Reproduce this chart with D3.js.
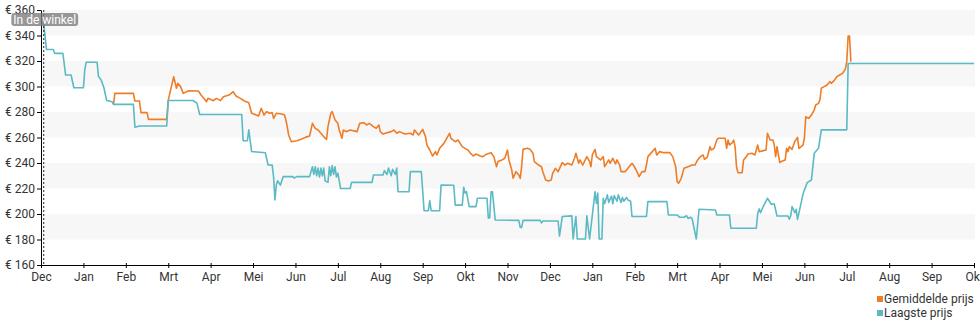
<!DOCTYPE html>
<html>
<head>
<meta charset="utf-8">
<script src="https://cdn.jsdelivr.net/npm/d3@7"></script>
<style>
  html, body { margin: 0; padding: 0; background: #fff; }
  svg { display: block; font-family: Roboto, "Noto Sans", sans-serif; }
</style>
</head>
<body>
<svg id="chart" width="980" height="325"></svg>
<script>
// Month tick labels, December 2022 through October 2024
const monthLabels = ["Dec","Jan","Feb","Mrt","Apr","Mei","Jun","Jul","Aug","Sep","Okt","Nov",
                     "Dec","Jan","Feb","Mrt","Apr","Mei","Jun","Jul","Aug","Sep","Okt"];
const priceTicks = [160, 180, 200, 220, 240, 260, 280, 300, 320, 340, 360];
const storeDate = "2022-12-03";
const storeLabel = "In de winkel";

// Average price (date, euro)
const gemiddeldePrijs = [
  ["2023-01-23",286],["2023-01-24",294.6],["2023-02-06",294.6],["2023-02-07",288.6],["2023-02-10",288.6],
  ["2023-02-11",279.5],["2023-02-15",279.5],["2023-02-16",274.2],["2023-02-28",274.2],["2023-03-01",289.1],
  ["2023-03-05",307.7],["2023-03-07",298.6],["2023-03-08",302.5],["2023-03-10",299.9],["2023-03-12",294.6],
  ["2023-03-16",296.7],["2023-03-23",296.5],["2023-03-25",293.3],["2023-03-29",288.1],["2023-03-30",290.7],
  ["2023-04-03",288.9],["2023-04-05",290.7],["2023-04-08",288.9],["2023-04-10",292],["2023-04-14",293.3],
  ["2023-04-17",295.9],["2023-04-19",292.5],["2023-04-22",290.7],["2023-04-25",288.6],["2023-04-28",287.3],
  ["2023-04-30",279],["2023-05-02",278.2],["2023-05-05",276.9],["2023-05-07",282.9],["2023-05-09",277.6],
  ["2023-05-11",280.3],["2023-05-13",279],["2023-05-15",279.5],["2023-05-16",275],["2023-05-18",279],
  ["2023-05-22",278.4],["2023-05-24",277.6],["2023-05-25",273.7],["2023-05-26",268.5],["2023-05-27",262],
  ["2023-05-29",256.7],["2023-06-02",257.5],["2023-06-05",258.6],["2023-06-08",260.1],["2023-06-11",261.2],
  ["2023-06-13",271.1],["2023-06-15",267.2],["2023-06-17",265.9],["2023-06-19",263.3],["2023-06-22",259.4],
  ["2023-06-23",258.6],["2023-06-24",268.5],["2023-06-26",279],["2023-06-27",280.3],["2023-06-29",273.7],
  ["2023-07-01",271.1],["2023-07-02",265.9],["2023-07-04",259.4],["2023-07-05",265.9],["2023-07-07",264.6],
  ["2023-07-10",265.9],["2023-07-15",264.6],["2023-07-17",271.1],["2023-07-20",271.6],["2023-07-22",269.8],
  ["2023-07-24",271.1],["2023-07-27",268.5],["2023-07-29",267.2],["2023-07-31",269.8],["2023-08-01",264.6],
  ["2023-08-03",262.7],["2023-08-06",263.8],["2023-08-09",264.6],["2023-08-11",265.9],["2023-08-13",263.3],
  ["2023-08-15",264.6],["2023-08-19",262.7],["2023-08-23",263.3],["2023-08-25",262],["2023-08-26",265.9],
  ["2023-08-29",262],["2023-08-30",263.3],["2023-09-01",266.4],["2023-09-03",260.7],["2023-09-04",254.1],
  ["2023-09-06",250.2],["2023-09-08",245.5],["2023-09-10",248.9],["2023-09-11",246.3],["2023-09-13",251.5],
  ["2023-09-16",255.4],["2023-09-18",259.4],["2023-09-20",263.3],["2023-09-21",259.4],["2023-09-24",256.7],
  ["2023-09-26",258],["2023-09-29",252.8],["2023-10-01",251.5],["2023-10-03",250.2],["2023-10-05",247.6],
  ["2023-10-07",245.5],["2023-10-09",247.1],["2023-10-12",245.5],["2023-10-14",245],["2023-10-17",247.1],
  ["2023-10-20",248.1],["2023-10-22",245],["2023-10-24",237.1],["2023-10-25",241.1],["2023-10-28",242.4],
  ["2023-10-30",243.7],["2023-11-01",250.2],["2023-11-02",242.4],["2023-11-04",234.5],["2023-11-05",228],
  ["2023-11-07",233.2],["2023-11-09",230.6],["2023-11-10",228],["2023-11-11",237.1],["2023-11-12",250.7],
  ["2023-11-15",251.5],["2023-11-17",250.7],["2023-11-19",247.6],["2023-11-20",241.1],["2023-11-23",238.4],
  ["2023-11-25",237.1],["2023-11-26",233.2],["2023-11-28",226.7],["2023-11-30",225.9],["2023-12-02",226.7],
  ["2023-12-03",231.9],["2023-12-05",235.8],["2023-12-07",233.2],["2023-12-10",240.3],["2023-12-12",238.4],
  ["2023-12-14",239.8],["2023-12-17",238.4],["2023-12-19",243.7],["2023-12-20",247.6],["2023-12-22",239.8],
  ["2023-12-23",242.4],["2023-12-25",238.4],["2023-12-28",245],["2023-12-30",241.1],["2023-12-31",237.1],
  ["2024-01-01",246.3],["2024-01-03",250.7],["2024-01-04",245],["2024-01-07",242.4],["2024-01-09",245],
  ["2024-01-10",237.1],["2024-01-13",242.4],["2024-01-14",239.8],["2024-01-16",243.7],["2024-01-18",239.3],
  ["2024-01-19",242.4],["2024-01-21",238.4],["2024-01-22",233.2],["2024-01-25",233.2],["2024-01-27",235.8],
  ["2024-01-30",239.8],["2024-01-31",238.4],["2024-02-02",234.5],["2024-02-04",229.3],["2024-02-06",233.2],
  ["2024-02-08",233.2],["2024-02-09",238.4],["2024-02-10",245],["2024-02-13",248.9],["2024-02-15",251.5],
  ["2024-02-16",246.3],["2024-02-18",248.9],["2024-02-21",248.1],["2024-02-25",248.1],["2024-02-27",245],
  ["2024-02-29",237.1],["2024-03-01",225.4],["2024-03-02",224.1],["2024-03-04",228],["2024-03-06",235.8],
  ["2024-03-09",237.1],["2024-03-12",238.4],["2024-03-14",238.4],["2024-03-16",242.4],["2024-03-18",245],
  ["2024-03-20",246.3],["2024-03-21",242.9],["2024-03-23",244.5],["2024-03-25",252.8],["2024-03-26",250.2],
  ["2024-03-28",251.5],["2024-03-30",258],["2024-03-31",259.4],["2024-04-05",259.4],["2024-04-06",251.5],
  ["2024-04-07",258],["2024-04-08",254.1],["2024-04-10",255.9],["2024-04-11",258],["2024-04-12",252.8],
  ["2024-04-13",237.1],["2024-04-14",232.4],["2024-04-17",232.4],["2024-04-18",242.4],["2024-04-20",245],
  ["2024-04-21",247.1],["2024-04-24",247.6],["2024-04-26",246.3],["2024-04-28",254.1],["2024-04-29",248.9],
  ["2024-05-02",249.7],["2024-05-04",250.2],["2024-05-05",263.3],["2024-05-07",258],["2024-05-09",258],
  ["2024-05-10",254.1],["2024-05-11",245],["2024-05-12",252.8],["2024-05-14",240.3],["2024-05-15",241.1],
  ["2024-05-18",242.4],["2024-05-19",251.5],["2024-05-20",248.9],["2024-05-21",252.8],["2024-05-23",250.7],
  ["2024-05-25",256.8],["2024-05-27",260.1],["2024-05-28",251.5],["2024-05-31",254.1],["2024-06-01",259.4],
  ["2024-06-02",276.3],["2024-06-04",275],["2024-06-06",277.6],["2024-06-08",281.6],["2024-06-09",285.5],
  ["2024-06-11",286.8],["2024-06-12",289.4],["2024-06-13",298.6],["2024-06-15",299.9],["2024-06-17",301.2],
  ["2024-06-19",303.8],["2024-06-20",302.5],["2024-06-22",304.6],["2024-06-24",307.7],["2024-06-26",309],
  ["2024-06-28",310.3],["2024-06-30",313.5],["2024-07-01",319.5],["2024-07-02",339.6],["2024-07-03",339.6],
  ["2024-07-04",319.5]
];

// Lowest price (date, euro)
const laagstePrijs = [
  ["2022-12-03",349],["2022-12-05",329],["2022-12-10",329],["2022-12-11",326],["2022-12-17",326],
  ["2022-12-19",309],["2022-12-23",309],["2022-12-25",299],["2023-01-01",299],["2023-01-02",313],
  ["2023-01-03",319],["2023-01-11",319],["2023-01-12",308],["2023-01-14",305],["2023-01-16",299],
  ["2023-01-18",289],["2023-01-22",288],["2023-01-23",286],["2023-02-06",286],["2023-02-07",268],
  ["2023-02-10",269],["2023-02-28",269],["2023-03-01",289],["2023-03-19",289],["2023-03-22",287],
  ["2023-03-24",278],["2023-04-23",278],["2023-04-24",257.5],["2023-04-27",257.5],["2023-04-28",266],
  ["2023-04-30",249],["2023-05-10",248],["2023-05-12",238.4],["2023-05-15",238.4],["2023-05-16",229.3],
  ["2023-05-17",211],["2023-05-18",222.7],["2023-05-19",226],["2023-05-21",222.7],["2023-05-23",229.3],
  ["2023-05-30",229.3],["2023-05-31",228.3],["2023-06-02",229.3],["2023-06-11",229.3],["2023-06-13",237],
  ["2023-06-14",231],["2023-06-15",237],["2023-06-16",230],["2023-06-17",236],["2023-06-18",229],
  ["2023-06-19",236],["2023-06-20",230],["2023-06-21",236],["2023-06-22",226],["2023-06-24",224.8],
  ["2023-06-25",237],["2023-06-26",230],["2023-06-27",238],["2023-06-28",231],["2023-06-29",237],
  ["2023-06-30",229],["2023-07-01",232],["2023-07-02",226],["2023-07-03",220],["2023-07-10",220],
  ["2023-07-11",224.8],["2023-07-26",224.8],["2023-07-27",230.6],["2023-08-03",230.6],["2023-08-04",234],
  ["2023-08-06",231],["2023-08-07",236],["2023-08-09",230],["2023-08-10",235],["2023-08-12",231],
  ["2023-08-13",236],["2023-08-14",217.5],["2023-08-22",217.5],["2023-08-23",233.2],["2023-08-31",233.2],
  ["2023-09-02",202.6],["2023-09-05",202.6],["2023-09-06",210.5],["2023-09-07",202.6],["2023-09-13",202.6],
  ["2023-09-14",222.7],["2023-09-23",222.5],["2023-09-24",207],["2023-09-29",207],["2023-09-30",221],
  ["2023-10-01",216.4],["2023-10-02",217.5],["2023-10-04",205.8],["2023-10-09",205.8],["2023-10-10",212.3],
  ["2023-10-17",212.3],["2023-10-18",196.7],["2023-10-19",197],["2023-10-20",217.5],["2023-10-21",217.5],
  ["2023-10-23",195.3],["2023-11-09",195],["2023-11-10",189.5],["2023-11-11",189.5],["2023-11-12",195],
  ["2023-11-24",195],["2023-11-25",193],["2023-11-26",194.5],["2023-12-07",194.5],["2023-12-08",182.7],
  ["2023-12-09",190],["2023-12-10",198],["2023-12-17",198.5],["2023-12-18",180.4],["2023-12-19",190],
  ["2023-12-20",198],["2023-12-21",180.4],["2023-12-27",180.4],["2023-12-28",198.5],["2023-12-30",180.4],
  ["2024-01-03",217.5],["2024-01-04",208.3],["2024-01-05",216.4],["2024-01-06",180.4],["2024-01-08",180.4],
  ["2024-01-09",212.3],["2024-01-10",208],["2024-01-12",215],["2024-01-13",209],["2024-01-15",214],
  ["2024-01-16",208],["2024-01-17",214.5],["2024-01-19",210],["2024-01-20",215],["2024-01-22",209],
  ["2024-01-23",213],["2024-01-24",210],["2024-01-26",213],["2024-01-27",211],["2024-01-29",210],
  ["2024-01-30",198],["2024-02-09",198],["2024-02-10",209.7],["2024-02-23",209.7],["2024-02-24",199.2],
  ["2024-03-01",199.2],["2024-03-03",197.4],["2024-03-06",197.4],["2024-03-08",198.6],["2024-03-09",196.5],
  ["2024-03-11",197.4],["2024-03-12",196.1],["2024-03-15",180.4],["2024-03-17",203.7],["2024-03-29",203.1],
  ["2024-03-30",199.2],["2024-04-08",199.2],["2024-04-09",188.8],["2024-04-27",188.8],["2024-04-28",200.5],
  ["2024-04-29",204],["2024-04-30",201],["2024-05-02",206],["2024-05-05",212.3],["2024-05-08",207.5],
  ["2024-05-10",208],["2024-05-12",198.4],["2024-05-20",198.4],["2024-05-21",196],["2024-05-22",198.4],
  ["2024-05-23",205.8],["2024-05-25",201],["2024-05-26",203.6],["2024-05-27",195.8],["2024-05-30",210.5],
  ["2024-05-31",215.7],["2024-06-03",224.6],["2024-06-06",226.7],["2024-06-08",247.6],["2024-06-11",251.5],
  ["2024-06-13",266],["2024-07-01",266],["2024-07-02",318],["2024-10-01",318]
];

const seriesNames = ["Gemiddelde prijs", "Laagste prijs"];
const seriesColors = ["#ee7d28", "#5bbac4"];
const seriesData = [gemiddeldePrijs, laagstePrijs];

// The axis spaces every month equally, so a date maps to a fractional month index
const parseDate = d3.timeParse("%Y-%m-%d");
const firstMonth = new Date(2022, 11, 1);
function monthIndex(str) {
  const d = parseDate(str);
  const whole = d3.timeMonth.count(firstMonth, d3.timeMonth.floor(d));
  const daysInMonth = d3.timeDay.count(d3.timeMonth.floor(d), d3.timeMonth.offset(d3.timeMonth.floor(d), 1));
  return whole + (d.getDate() - 1) / daysInMonth;
}

const svg = d3.select("#chart");
const x = d3.scaleLinear().domain([0, monthLabels.length - 1]).range([41, 974]);
const y = d3.scaleLinear().domain([160, 360]).range([265, 10]);

// Alternating background bands
const bands = svg.append("g");
priceTicks.slice(0, -1).forEach((lo, i) => {
  const hi = priceTicks[i + 1];
  if ((360 - hi) % 40 === 0) {
    bands.append("rect")
      .attr("x", x(0)).attr("width", 975 - x(0))
      .attr("y", y(hi)).attr("height", y(lo) - y(hi))
      .attr("fill", "#f7f7f7");
  }
});

// Price lines
const line = d3.line()
  .x(d => x(monthIndex(d[0])))
  .y(d => y(d[1]));

svg.append("g").selectAll("path")
  .data(seriesData)
  .join("path")
  .attr("d", d => line(d))
  .attr("fill", "none")
  .attr("stroke", (d, i) => seriesColors[i])
  .attr("stroke-width", 1.6)
  .attr("stroke-linejoin", "round");

// Axes
const yAxis = svg.append("g")
  .attr("transform", `translate(${x(0)},0)`)
  .call(d3.axisLeft(y).tickValues(priceTicks).tickFormat(d => "€ " + d).tickSize(4).tickSizeOuter(0).tickPadding(2));

const xAxis = svg.append("g")
  .attr("transform", `translate(0,${y(160)})`)
  .call(d3.axisBottom(x).tickValues(d3.range(monthLabels.length)).tickFormat(i => monthLabels[i]).tickSize(3).tickSizeOuter(0).tickPadding(4));
xAxis.selectAll(".tick line").attr("y1", -2);

[yAxis, xAxis].forEach(g => {
  g.select(".domain").attr("stroke", "#000");
  g.selectAll(".tick line").attr("stroke", "#000");
  g.selectAll(".tick text").attr("fill", "#333").style("font-size", "12px").style("font-family", "Roboto, sans-serif");
});

// Store marker
const sx = x(monthIndex(storeDate));
svg.append("line")
  .attr("x1", sx).attr("x2", sx)
  .attr("y1", y(360)).attr("y2", y(160))
  .attr("stroke", "#222").attr("stroke-width", 1)
  .attr("stroke-dasharray", "2,2");

const tag = svg.append("g");
const tagText = tag.append("text")
  .attr("x", sx + 1).attr("y", 23.5)
  .attr("text-anchor", "middle")
  .attr("fill", "#fff")
  .style("font-size", "12px")
  .text(storeLabel);
const bb = tagText.node().getBBox();
tag.insert("rect", "text")
  .attr("x", bb.x - 2).attr("y", 13)
  .attr("width", bb.width + 4).attr("height", 13)
  .attr("rx", 3)
  .attr("fill", "rgba(125,125,125,0.8)");

// Legend
const legend = svg.append("g").attr("transform", "translate(877,296)");
seriesNames.forEach((name, i) => {
  const row = legend.append("g").attr("transform", `translate(0,${i * 14})`);
  row.append("rect").attr("x", 0).attr("y", 0).attr("width", 6).attr("height", 6).attr("fill", seriesColors[i]);
  row.append("text").attr("x", 7).attr("y", 6.5)
    .attr("fill", "#333").style("font-size", "12px")
    .text(name);
});
</script>
</body>
</html>
